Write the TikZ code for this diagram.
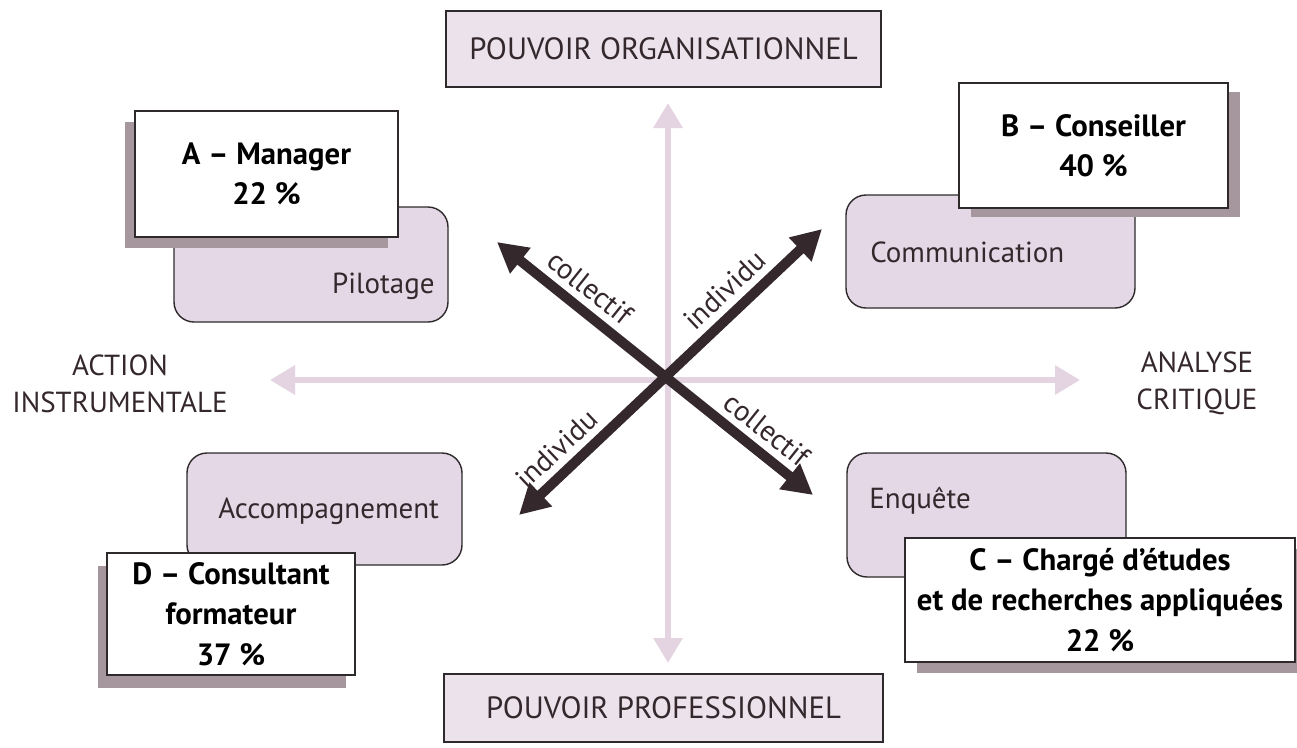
\documentclass[tikz,border=0pt]{standalone}
\usepackage{fontspec}
\setmainfont{PT Sans}
\usepackage{xcolor}
\usepackage{tikz}
\usetikzlibrary{arrows.meta,shadows}

\definecolor{mauve}{HTML}{E4D8E6}
\definecolor{mauvelight}{HTML}{EBE2EC}
\definecolor{axispink}{HTML}{E4D3E1}
\definecolor{arrowdark}{HTML}{35282D}
\definecolor{shadowgray}{HTML}{A6979F}
\definecolor{borderdark}{HTML}{2E2A2C}

\begin{document}
\begin{tikzpicture}[
  axis/.style={line width=0.12cm,color=axispink,
    {Triangle[length=0.5cm,width=0.56cm]}-{Triangle[length=0.5cm,width=0.56cm]}},
  bigarrow/.style={line width=0.2cm,color=arrowdark,
    {Triangle[length=0.6cm,width=0.62cm]}-{Triangle[length=0.6cm,width=0.62cm]}},
  edgelabel/.style={sloped,above,inner sep=4pt,text=arrowdark,font=\fontsize{16.5}{19}\selectfont},
  powerbox/.style={draw=borderdark,line width=0.8pt,fill=mauvelight,inner sep=0pt,
    text=arrowdark,font=\fontsize{17.5}{21}\selectfont},
  poletext/.style={align=center,text=arrowdark,font=\fontsize{16.5}{21}\selectfont},
  actbox/.style={draw=borderdark,line width=0.8pt,fill=mauve,rounded corners=0.4cm,inner sep=0pt},
  acttext/.style={inner sep=0pt,text=arrowdark,font=\fontsize{16.5}{19}\selectfont},
  rolebox/.style={draw=borderdark,line width=1pt,fill=white,inner sep=0pt,align=center,
    font=\fontsize{17.5}{23}\selectfont\bfseries},
  roleshadow/.style 2 args={drop shadow={shadow xshift=#1,shadow yshift=#2,
    fill=shadowgray,opacity=1}}
]
\fill[white] (0,0) rectangle (25.94,-14.94);
\useasboundingbox (0,0) rectangle (25.94,-14.94);
%
\node (porg) at (13.27,-0.98) [powerbox,minimum width=8.7cm,minimum height=1.52cm] {POUVOIR ORGANISATIONNEL};
\node (ppro) at (13.27,-14.16) [powerbox,minimum width=8.78cm,minimum height=1.36cm] {POUVOIR PROFESSIONNEL};
%
\node (act) at (2.40,-7.67) [poletext] {ACTION\\INSTRUMENTALE};
\node (ana) at (23.94,-7.67) [poletext] {ANALYSE\\CRITIQUE};
%
\coordinate (ax-n) at (13.36,-2.06);
\coordinate (ax-s) at (13.36,-13.26);
\coordinate (ax-w) at (5.40,-7.60);
\coordinate (ax-e) at (21.60,-7.60);
%
\coordinate (nw) at (9.94,-4.84);
\coordinate (se) at (16.26,-9.90);
\coordinate (sw) at (10.38,-10.30);
\coordinate (ne) at (16.44,-4.58);
%%
\draw (ax-n) edge[axis] (ax-s);
\draw (ax-w) edge[axis] (ax-e);
%
\draw (nw) edge[bigarrow] node[edgelabel,pos=0.25] {collectif} node[edgelabel,pos=0.81] {collectif} (se);
\draw (sw) edge[bigarrow] node[edgelabel,pos=0.175] {individu} node[edgelabel,pos=0.73] {individu} (ne);
%%
\node (pil) at (6.22,-5.29) [actbox,minimum width=5.48cm,minimum height=2.30cm] {};
\node (com) at (19.81,-5.03) [actbox,minimum width=5.78cm,minimum height=2.26cm] {};
\node (enq) at (19.73,-10.30) [actbox,minimum width=5.58cm,minimum height=2.48cm] {};
\node (acc) at (6.49,-10.18) [actbox,minimum width=5.50cm,minimum height=2.24cm] {};
%
\node (pil-t) at (8.70,-5.86) [acttext,anchor=base east] {Pilotage};
\node (com-t) at (17.40,-5.24) [acttext,anchor=base west] {Communication};
\node (enq-t) at (17.38,-10.16) [acttext,anchor=base west] {Enquête};
\node (acc-t) at (4.36,-10.36) [acttext,anchor=base west] {Accompagnement};
%%
\node (roleA) at (5.33,-3.48) [rolebox,roleshadow={-0.2cm}{-0.22cm},minimum width=5.26cm,minimum height=2.52cm] {A – Manager\\22 \%};
\node (roleB) at (21.87,-2.91) [rolebox,roleshadow={0.24cm}{-0.18cm},minimum width=5.38cm,minimum height=2.50cm] {B – Conseiller\\40 \%};
\node (roleC) at (22.00,-12.00) [rolebox,roleshadow={0.24cm}{-0.22cm},minimum width=7.80cm,minimum height=2.48cm] {C – Chargé d’études\\et de recherches appliquées\\22 \%};
\node (roleD) at (4.62,-12.28) [rolebox,roleshadow={-0.18cm}{-0.26cm},minimum width=4.96cm,minimum height=2.44cm] {D – Consultant\\formateur\\37 \%};
\end{tikzpicture}
\end{document}
